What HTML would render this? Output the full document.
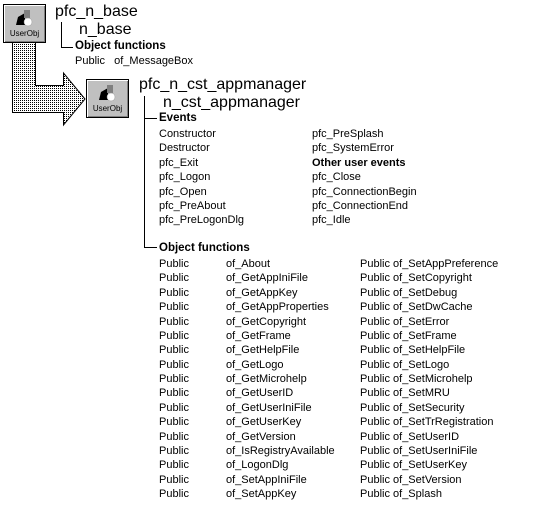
<!DOCTYPE html>
<html><head><meta charset="utf-8"><style>
html,body{margin:0;padding:0;background:#fff;}
body{width:553px;height:518px;position:relative;overflow:hidden;font-family:"Liberation Sans",Arial,sans-serif;color:#000;}
.t{position:absolute;font-size:11px;line-height:14px;white-space:nowrap;}
.b{font-weight:bold;font-size:11.5px;}
.big{position:absolute;font-size:16px;line-height:18px;white-space:nowrap;}
.ic{position:absolute;width:41px;height:37px;background:#c0c0c0;border:1px solid #000;box-shadow:inset 1px 1px 0 #fff,inset -1px -1px 0 #808080;}
.ic span{position:absolute;left:0;right:0;bottom:4px;text-align:center;font-size:8px;line-height:9px;}
</style></head><body>
<svg width="553" height="518" style="position:absolute;left:0;top:0">
<defs><pattern id="d" width="2" height="2" patternUnits="userSpaceOnUse"><rect width="2" height="2" fill="#fff"/><rect x="0" y="0" width="1" height="1" fill="#000"/></pattern></defs>
<path d="M12.5 42 L35.5 42 L35.5 85.5 L63.5 85.5 L63.5 73 L85 99 L63.5 125 L63.5 112.5 L12.5 112.5 Z" fill="url(#d)" stroke="#000" stroke-width="1"/>
<path d="M61.5 22 V47.5 H73" fill="none" stroke="#000"/>
<path d="M144.5 96 V247.5 H157 M144.5 118.5 H157" fill="none" stroke="#000"/>
</svg>
<div class="ic" style="left:3px;top:4px"><span>UserObj</span></div>
<div class="ic" style="left:86px;top:79px"><span>UserObj</span></div>
<svg width="553" height="518" style="position:absolute;left:0;top:0">
<g transform="translate(3,4)"><polygon points="15,13 22,9 22,21 13,21" fill="#000"/><rect x="21" y="6" width="6" height="8" fill="#808080"/><circle cx="25" cy="18" r="4" fill="#fff" stroke="#999" stroke-width="0.5"/></g>
<g transform="translate(86,79)"><polygon points="15,13 22,9 22,21 13,21" fill="#000"/><rect x="21" y="6" width="6" height="8" fill="#808080"/><circle cx="25" cy="18" r="4" fill="#fff" stroke="#999" stroke-width="0.5"/></g>
</svg>
<div class="big" style="left:55px;top:3px">pfc_n_base</div>
<div class="big" style="left:79px;top:21px">n_base</div>
<div class="t b" style="left:75px;top:39px">Object functions</div>
<div class="t" style="left:75px;top:54px">Public&nbsp;&nbsp; of_MessageBox</div>
<div class="big" style="left:139px;top:76px">pfc_n_cst_appmanager</div>
<div class="big" style="left:163px;top:94px">n_cst_appmanager</div>
<div class="t b" style="left:159px;top:111px">Events</div>
<div class="t" style="left:159px;top:127px;line-height:14.4px">Constructor<br>Destructor<br>pfc_Exit<br>pfc_Logon<br>pfc_Open<br>pfc_PreAbout<br>pfc_PreLogonDlg</div>
<div class="t" style="left:312px;top:127px;line-height:14.4px">pfc_PreSplash<br>pfc_SystemError<br><b>Other user events</b><br>pfc_Close<br>pfc_ConnectionBegin<br>pfc_ConnectionEnd<br>pfc_Idle</div>
<div class="t b" style="left:159px;top:241px">Object functions</div>
<div class="t" style="left:159px;top:257px;line-height:14.375px">Public<br>Public<br>Public<br>Public<br>Public<br>Public<br>Public<br>Public<br>Public<br>Public<br>Public<br>Public<br>Public<br>Public<br>Public<br>Public<br>Public</div>
<div class="t" style="left:226px;top:257px;line-height:14.375px">of_About<br>of_GetAppIniFile<br>of_GetAppKey<br>of_GetAppProperties<br>of_GetCopyright<br>of_GetFrame<br>of_GetHelpFile<br>of_GetLogo<br>of_GetMicrohelp<br>of_GetUserID<br>of_GetUserIniFile<br>of_GetUserKey<br>of_GetVersion<br>of_IsRegistryAvailable<br>of_LogonDlg<br>of_SetAppIniFile<br>of_SetAppKey</div>
<div class="t" style="left:360px;top:257px;line-height:14.375px">Public of_SetAppPreference<br>Public of_SetCopyright<br>Public of_SetDebug<br>Public of_SetDwCache<br>Public of_SetError<br>Public of_SetFrame<br>Public of_SetHelpFile<br>Public of_SetLogo<br>Public of_SetMicrohelp<br>Public of_SetMRU<br>Public of_SetSecurity<br>Public of_SetTrRegistration<br>Public of_SetUserID<br>Public of_SetUserIniFile<br>Public of_SetUserKey<br>Public of_SetVersion<br>Public of_Splash</div>
</body></html>
